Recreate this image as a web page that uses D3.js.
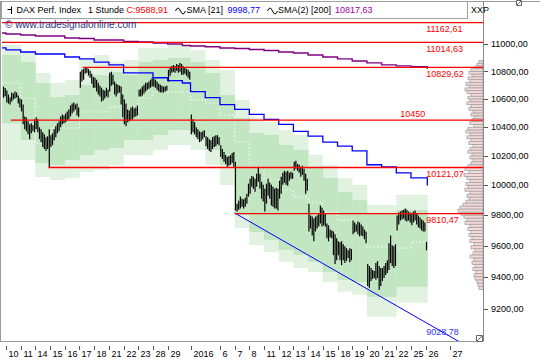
<!DOCTYPE html>
<html><head><meta charset="utf-8">
<script src="https://cdn.jsdelivr.net/npm/d3@7"></script>
<style>
body{margin:0;background:#fff}
svg{display:block}
text{font-family:"Liberation Sans",Arial,sans-serif;font-size:9px}
</style>
</head><body>
<svg id="chart" width="540" height="360"></svg>
<script>
// ---------- DATA ----------
// trading sessions (Dec 9 2015 partial ... Jan 26 2016 partial)
const tickLabels = ["","10","11","14","15","16","17","18","21","22","23","28","29","","2016","","6","7","8","11","12","13","14","15","18","19","20","21","22","25","26"];
const sessionBars = [2,9,9,9,9,9,9,9,9,9,9,9,9,5,9,9,9,9,9,9,9,9,9,9,9,9,9,9,9,9,1];
const futureTicks = [{label:"27", bar:272}];

// hourly bars: highs / lows
const highs = [
10690,10680,
10661,10633,10612,10647,10640,10654,10647,10626,10604,
10597,10561,10477,10470,10442,10421,10428,10414,10456,
10470,10456,10400,10386,10365,10351,10331,10338,10386,
10345,10358,10386,10407,10428,10442,10477,10491,10484,
10498,10512,10526,10554,10568,10575,10561,10568,10540,
10797,10812,10819,10833,10826,10819,10805,10783,10762,
10754,10740,10718,10697,10682,10668,10661,10682,10668,
10790,10797,10776,10726,10711,10704,10697,10690,10633,
10597,10568,10526,10519,10540,10547,10533,10540,10554,
10668,10675,10690,10704,10718,10718,10726,10740,10754,
10747,10740,10726,10711,10704,10697,10690,10690,10697,
10812,10833,10840,10848,10840,10855,10848,10862,10855,
10840,10833,10819,10812,10797,
10491,10456,10435,10400,10386,10372,10365,10372,10379,
10338,10331,10317,10310,10331,10338,10345,10345,10331,
10275,10248,10228,10207,10194,10201,10207,10221,10228,
10160,9877,9897,9924,9910,9904,9917,9944,10011,
10044,10064,10058,10044,10078,10126,10078,10024,10004,
9977,10011,10044,10017,10004,9991,9977,9984,9977,
10031,10058,10085,10099,10092,10099,10085,10092,10085,
10160,10167,10146,10140,10126,10133,10112,10078,10044,
9877,9798,9791,9778,9791,9798,9811,9864,9851,
9831,9811,9746,9733,9706,9700,9693,9674,9648,
9629,9622,9629,9610,9597,9584,9571,9584,9578,
9765,9752,9739,9759,9752,9739,9726,9706,9693,
9482,9469,9456,9444,9437,9488,9501,9469,9456,
9456,9469,9488,9507,9616,9667,9603,9597,9610,
9798,9818,9824,9831,9837,9844,9837,9824,9818,
9811,9824,9831,9811,9798,9785,9772,9765,9752,
9625];
const lows = [
10610,10620,
10575,10568,10561,10583,10597,10604,10612,10568,10540,
10512,10421,10386,10372,10351,10317,10358,10372,10365,
10386,10365,10317,10296,10262,10248,10235,10248,10121,
10262,10275,10310,10331,10358,10372,10400,10421,10428,
10435,10449,10456,10477,10498,10512,10526,10484,10470,
10682,10726,10740,10783,10790,10769,10754,10711,10682,
10682,10654,10633,10619,10583,10590,10604,10619,10612,
10654,10697,10704,10633,10619,10640,10647,10561,10470,
10421,10407,10435,10442,10449,10456,10470,10477,10484,
10619,10619,10626,10640,10654,10668,10675,10682,10690,
10690,10682,10668,10654,10647,10647,10647,10654,10661,
10726,10769,10790,10797,10790,10805,10790,10797,10776,
10776,10783,10769,10754,10740,
10351,10365,10351,10331,10317,10296,10303,10317,10331,
10268,10248,10235,10228,10248,10262,10268,10282,10275,
10194,10180,10160,10146,10126,10133,10140,10153,10126,
9831,9824,9837,9844,9857,9844,9857,9877,9924,
9944,9991,9977,9957,9991,10024,9977,9910,9891,
9824,9877,9930,9910,9864,9857,9844,9844,9831,
9910,9944,10004,10017,10004,9997,10031,10044,10044,
10099,10112,10099,10085,10058,10071,10031,9944,9964,
9693,9713,9667,9629,9693,9713,9726,9746,9726,
9733,9726,9648,9629,9655,9648,9539,9482,9507,
9539,9507,9475,9507,9488,9501,9520,9494,9507,
9674,9687,9693,9674,9661,9667,9661,9642,9616,
9343,9331,9374,9387,9393,9381,9393,9318,9343,
9374,9393,9412,9425,9444,9488,9469,9456,9469,
9700,9739,9765,9772,9778,9765,9759,9765,9752,
9733,9752,9765,9739,9720,9713,9700,9693,9693,
9570];
const lastClose = 9588.91;

// daily band zones (one value per session)
const bandOuterTop    = [10995,10995,10943,10789,10716,10738,10899,10921,10869,10884,10973,10973,10995,10995,10958,10884,10811,10594,10466,10437,10381,10346,10207,10138,10050,10002,9868,9868,9935,9935,9935];
const bandInnerTop    = [10921,10921,10869,10716,10615,10629,10702,10774,10796,10774,10869,10884,10899,10899,10869,10789,10629,10466,10360,10346,10276,10242,10118,10050,9955,9901,9815,9815,9835,9835,9835];
const bandInnerBottom = [10430,10430,10311,10152,10138,10173,10207,10242,10255,10311,10311,10346,10381,10381,10346,10242,10138,9801,9690,9638,9573,9540,9495,9431,9381,9368,9274,9274,9337,9337,9337];
const bandOuterBottom = [10173,10173,10173,10056,10036,10050,10091,10104,10138,10207,10207,10242,10276,10276,10242,10138,10002,9716,9605,9560,9495,9457,9431,9368,9306,9287,9150,9150,9237,9237,9237];
const bandMid         = [10716,10716,10608,10290,10395,10395,10508,10508,10544,10501,10608,10651,10651,10651,10594,10572,10487,10297,10125,10036,9968,9921,9888,9821,9768,9703,9592,9592,9585,9624,9624];

// moving averages (one value per session, plus last value)
const sma21  = [10973,10958,10943,10928,10928,10906,10892,10869,10848,10789,10789,10754,10733,10716,10654,10611,10561,10526,10491,10456,10421,10372,10338,10296,10268,10235,10140,10126,10085,10051,10051];
const sma21Last = 9998.77;
const sma200 = [11084,11077,11069,11062,11062,11047,11043,11032,11032,11021,11017,11010,11002,10991,10987,10982,10972,10969,10961,10954,10943,10936,10921,10906,10892,10877,10863,10848,10841,10834,10834];
const sma200Last = 10817.63;

// horizontal levels
const levels = [11162.61, 11014.63, 10829.62, 10450, 10121.07, 9810.47];
const levelStartBar = [-3, -3, 47, 3, 26, 140];
const levelLabelAbove = [false, false, false, true, false, false];

// trend line
const trendStart = {bar:140, price:9815};
const trendEnd = {bar:272, price:9028.78};

// y axis ticks
const yTicks = [9200, 9400, 9600, 9800, 10000, 10200, 10400, 10600, 10800, 11000];

// volume profile (top price 10860, buckets of 20 points downwards)
const profileTop = 10860, profileStep = 20;
const profileVolume = [4,6,8,12,14,11,15,13,17,14,18,16,12,15,13,16,12,14,10,12,9,11,13,9,15,17,13,16,12,14,10,13,15,11,13,10,12,15,18,14,19,16,13,17,15,18,13,16,14,17,20,23,25,22,19,16,18,13,15,12,14,11,13,9,12,8,10,13,9,11,8,10,7,9,8,6,5,4];

// ---------- CHART ----------
const svg = d3.select("#chart");
const L = 2, R = 483, T = 2, B = 341;

const x = d3.scaleLinear().domain([0, 257]).range([6, 425.7]);
const y = d3.scaleLog().domain([9200, 11000]).range([308.7, 44.3]);

const starts = [];
{ let s = -2; sessionBars.forEach(n => { starts.push(s); s += n; }); }
const ends = starts.map((s, i) => s + sessionBars[i]);
const lastBar = starts[starts.length - 1];

const de = d3.formatLocale({decimal:",", thousands:"", grouping:[3], currency:["",""]});
const f2 = de.format(".2f");
const fmtLevel = v => Number.isInteger(v) ? String(v) : f2(v);

svg.append("defs").append("clipPath").attr("id","plot")
  .append("rect").attr("x",L).attr("y",T).attr("width",R-L).attr("height",B-T);
const g = svg.append("g").attr("clip-path","url(#plot)");

const x0 = i => i === 0 ? L : x(starts[i]);
const x1 = i => x(ends[i]);

// bands
g.append("g").selectAll("rect").data(starts).join("rect")
  .attr("x",(d,i)=>x0(i)).attr("width",(d,i)=>x1(i)-x0(i)+0.3)
  .attr("y",(d,i)=>y(bandOuterTop[i])).attr("height",(d,i)=>y(bandOuterBottom[i])-y(bandOuterTop[i]))
  .attr("fill","#e1f2e1");
g.append("g").selectAll("rect").data(starts).join("rect")
  .attr("x",(d,i)=>x0(i)).attr("width",(d,i)=>x1(i)-x0(i)+0.3)
  .attr("y",(d,i)=>y(bandInnerTop[i])).attr("height",(d,i)=>y(bandInnerBottom[i])-y(bandInnerTop[i]))
  .attr("fill","#c1e6c1");

// dotted middle line
const midPts = [];
starts.forEach((s,i)=>{ midPts.push([x0(i), y(bandMid[i])]); midPts.push([x1(i), y(bandMid[i])]); });
g.append("path").attr("d", d3.line()(midPts)).attr("fill","none")
  .attr("stroke","#ffffff").attr("stroke-width",1.2).attr("stroke-dasharray","1.2,2.6");

// volume profile
g.append("g").selectAll("rect").data(profileVolume).join("rect")
  .attr("x", d => R - d)
  .attr("y", (d,i) => y(profileTop - i*profileStep + profileStep))
  .attr("width", d => d)
  .attr("height", (d,i) => y(profileTop - i*profileStep) - y(profileTop - i*profileStep + profileStep))
  .attr("fill","#f5d8d8").attr("stroke","#a2a2a2").attr("stroke-width",0.8);

// price bars
g.append("g").selectAll("line").data(highs).join("line")
  .attr("x1",(d,i)=>x(i - 2 + 0.5)).attr("x2",(d,i)=>x(i - 2 + 0.5))
  .attr("y1",d=>y(d)).attr("y2",(d,i)=>y(lows[i]))
  .attr("stroke","#000").attr("stroke-width",1.2);

// moving averages
function stepPath(vals, last){
  const pts = starts.map((s,i)=>[i===0?L:x(s), y(vals[i])]);
  pts.push([x(lastBar + 1), y(last)]);
  return d3.line().curve(d3.curveStepAfter)(pts);
}
g.append("path").attr("d", stepPath(sma200, sma200Last)).attr("fill","none")
  .attr("stroke","#800080").attr("stroke-width",1.4);
g.append("path").attr("d", stepPath(sma21, sma21Last)).attr("fill","none")
  .attr("stroke","#0000ff").attr("stroke-width",1.3);

// trend line
{
  const ax = x(trendStart.bar), ay = y(trendStart.price);
  const bx = x(trendEnd.bar), by = y(trendEnd.price);
  g.append("line").attr("x1",ax).attr("y1",ay)
    .attr("x2",ax + 2*(bx-ax)).attr("y2",ay + 2*(by-ay))
    .attr("stroke","#0000ff").attr("stroke-width",1);
}

// horizontal levels
levels.forEach((v,i)=>{
  g.append("line").attr("x1", Math.max(L, x(levelStartBar[i]))).attr("x2", R)
    .attr("y1", y(v)).attr("y2", y(v)).attr("stroke","#ff0000").attr("stroke-width",1.3);
});

// level labels
const labX = x(lastBar) + 0.5;
levels.forEach((v,i)=>{
  const t = g.append("text").attr("fill","#ff0000").text(fmtLevel(v));
  if (levelLabelAbove[i]) t.attr("x", labX - 1).attr("y", y(v) - 3).attr("text-anchor","end");
  else t.attr("x", labX).attr("y", y(v) + 9.5);
});
g.append("text").attr("x", labX).attr("y", y(trendEnd.price) - 1)
  .attr("fill","#3333ff").text(f2(trendEnd.price));

// watermark
svg.append("text").attr("x",5).attr("y",27.5).attr("fill","#27358a")
  .style("font-size","10px").text("© www.tradesignalonline.com");

// frame
svg.append("line").attr("x1",0.5).attr("x2",0.5).attr("y1",1).attr("y2",B+0.5).attr("stroke","#9a9a9a");
svg.append("line").attr("x1",0).attr("x2",R).attr("y1",B+0.5).attr("y2",B+0.5).attr("stroke","#9a9a9a");
svg.append("line").attr("x1",R+0.5).attr("x2",R+0.5).attr("y1",1).attr("y2",B+0.5).attr("stroke","#8a8a8a");
svg.append("line").attr("x1",0).attr("x2",540).attr("y1",1.5).attr("y2",1.5).attr("stroke","#9a9a9a");

// right axis
const ya = svg.append("g");
yTicks.forEach(v=>{
  ya.append("line").attr("x1",R+1).attr("x2",R+5).attr("y1",Math.round(y(v))+0.5).attr("y2",Math.round(y(v))+0.5).attr("stroke","#555");
  ya.append("text").attr("x",491).attr("y",y(v)).attr("dy","0.35em").attr("fill","#000").text(f2(v));
});

// bottom axis
const xa = svg.append("g");
const xt = starts.map((s,i)=>({label:tickLabels[i], bar:s})).filter(d=>d.label!=="").concat(futureTicks);
xt.forEach(d=>{
  const px = Math.round(x(d.bar)) + 0.5;
  xa.append("line").attr("x1",px).attr("x2",px).attr("y1",346).attr("y2",350).attr("stroke","#555");
  xa.append("text").attr("x",px+2).attr("y",357).attr("fill","#000").text(d.label);
});

// legend box
svg.append("rect").attr("x",1.5).attr("y",1.5).attr("width",466).attr("height",17)
  .attr("fill","#fff").attr("stroke","#a0a0a0");
const lg = svg.append("g");
lg.append("path").attr("d","M11.5,6.5V14M7.5,9.5H11.5").attr("stroke","#000").attr("fill","none");
lg.append("text").attr("x",16.5).attr("y",13).text("DAX Perf. Index");
lg.append("text").attr("x",88).attr("y",13).text("1 Stunde");
lg.append("text").attr("x",126.5).attr("y",13).attr("fill","#ff0000").text("C:" + f2(lastClose));
const wave = x0 => `M${x0},11 q2.5,-6 5,0 t5,0`;
lg.append("path").attr("d",wave(175.5)).attr("stroke","#000").attr("fill","none");
lg.append("text").attr("x",186.5).attr("y",13).text("SMA [21]");
lg.append("text").attr("x",227.5).attr("y",13).attr("fill","#0000ff").text(f2(sma21Last));
lg.append("path").attr("d",wave(267.5)).attr("stroke","#000").attr("fill","none");
lg.append("text").attr("x",278).attr("y",13).text("SMA(2) [200]");
lg.append("text").attr("x",335).attr("y",13).attr("fill","#990099").text(f2(sma200Last));
svg.append("text").attr("x",471).attr("y",13).text("XXP");

// small corner icons
svg.append("path").attr("d","M516.5,0.5h5v5h-5zM517,5L521,1").attr("fill","#fff").attr("stroke","#666");
svg.append("path").attr("d","M476.5,335.5h6v6h-6zM477,341L482,336").attr("fill","#fff").attr("stroke","#666");
</script>
</body></html>
